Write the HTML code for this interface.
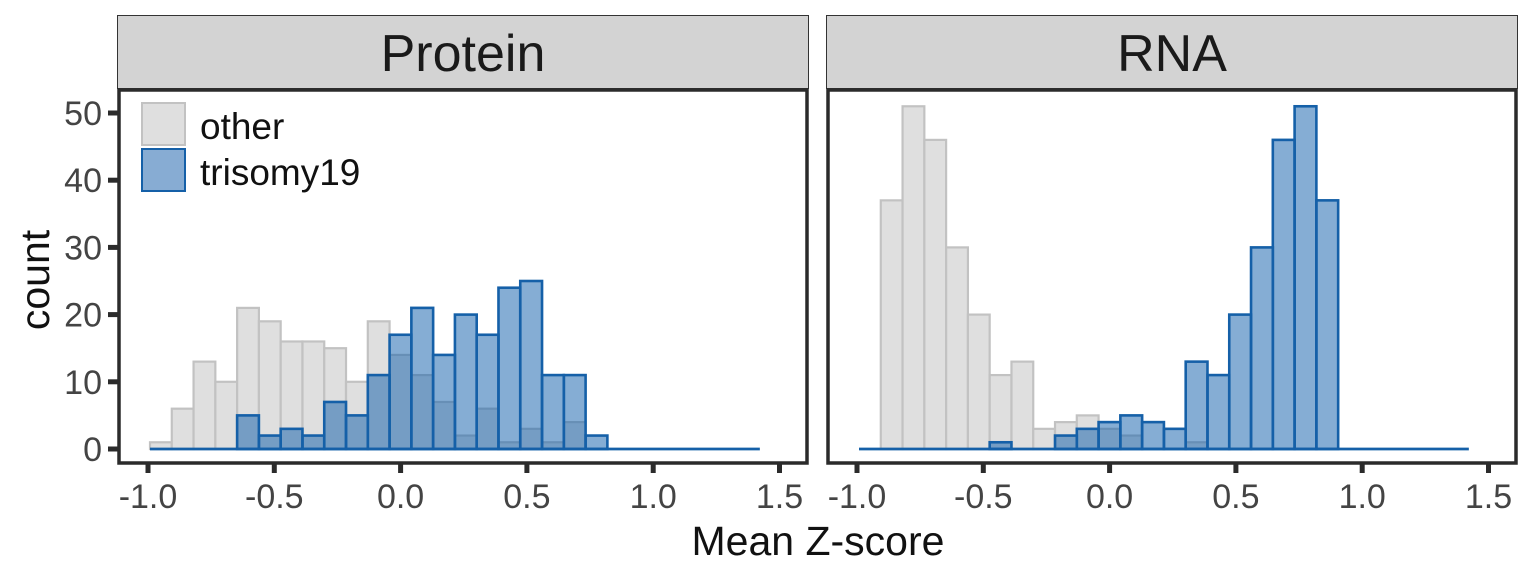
<!DOCTYPE html>
<html><head><meta charset="utf-8"><style>
html,body{margin:0;padding:0;background:#fff;width:1536px;height:576px;overflow:hidden}
svg text{font-family:"Liberation Sans",Arial,sans-serif}
</style></head><body>
<svg id="s" width="1536" height="576" xmlns="http://www.w3.org/2000/svg">
<rect x="0" y="0" width="1536" height="576" fill="#fff"/>
<rect x="117.5" y="15.5" width="691" height="73" fill="#d3d3d3" stroke="#333" stroke-width="1"/>
<rect x="826.5" y="15.5" width="691" height="73" fill="#d3d3d3" stroke="#333" stroke-width="1"/>
<text x="463" y="71" font-size="52" text-anchor="middle" fill="#1a1a1a">Protein</text>
<text x="1172" y="71" font-size="52" text-anchor="middle" fill="#1a1a1a">RNA</text>
<g id="bars"></g>
<rect x="119" y="90" width="688" height="373" fill="none" stroke="#2b2b2b" stroke-width="3.5"/>
<rect x="828" y="90" width="688" height="373" fill="none" stroke="#2b2b2b" stroke-width="3.5"/>
<g id="axes"></g>
<rect x="142" y="103" width="43" height="42" fill="#dfdfdf" stroke="#c2c2c2" stroke-width="2"/>
<rect x="142" y="149" width="43" height="42" fill="#87acd3" stroke="#1560a8" stroke-width="2"/>
<text x="200" y="139" font-size="37" fill="#111">other</text>
<text x="200" y="185" font-size="37" fill="#111">trisomy19</text>
<text x="818" y="555" font-size="41" text-anchor="middle" fill="#111">Mean Z-score</text>
<text transform="translate(49,280) rotate(-90)" font-size="41" text-anchor="middle" fill="#111">count</text>
</svg>
<script>
var NS="http://www.w3.org/2000/svg";
function el(t,a,p){var e=document.createElementNS(NS,t);for(var k in a)e.setAttribute(k,a[k]);if(p)p.appendChild(e);return e;}
var bars=document.getElementById('bars'),axes=document.getElementById('axes');
var y0=449,py=6.72,bw=21.78;
var L={off:0,o:[1,6,13,10,21,19,16,16,15,10,19,14,11,7,2,6,1,3,1,4,0,0,0,0,0,0,0,0],
 b:[0,0,0,0,5,2,3,2,7,5,11,17,21,14,20,17,24,25,11,11,2,0,0,0,0,0,0,0]};
var R={off:709,o:[0,37,51,46,30,20,11,13,3,4,5,3,2,0,0,1,0,0,0,0,0,0,0,0,0,0,0,0],
 b:[0,0,0,0,0,0,1,0,0,2,3,4,5,4,3,13,11,20,30,46,51,37,0,0,0,0,0,0]};
[L,R].forEach(function(P){
 var x0=150+P.off;
 for(var i=0;i<28;i++){var h=P.o[i]*py;
  el('rect',{x:x0+i*bw,y:y0-h,width:bw,height:h,fill:'#dfdfdf',stroke:'#c2c2c2','stroke-width':2.2},bars);}
 for(var i=0;i<28;i++){var h=P.b[i]*py;
  el('rect',{x:x0+i*bw,y:y0-h,width:bw,height:h,fill:'rgba(12,92,170,0.5)',stroke:'#1560a8','stroke-width':2.6},bars);}
 el('line',{x1:x0,y1:y0,x2:x0+28*bw,y2:y0,stroke:'#1560a8','stroke-width':2.8},bars);
 var labs=['-1.0','-0.5','0.0','0.5','1.0','1.5'];
 for(var j=0;j<6;j++){var x=148+P.off+j*126.3;
  el('line',{x1:x,y1:464,x2:x,y2:473,stroke:'#2b2b2b','stroke-width':5},axes);
  var t=el('text',{x:x,y:508,'font-size':34,'text-anchor':'middle',fill:'#444'},axes);t.textContent=labs[j];}
});
for(var k=0;k<=5;k++){var y=y0-k*10*py;
 el('line',{x1:108,y1:y,x2:118,y2:y,stroke:'#2b2b2b','stroke-width':5},axes);
 var t=el('text',{x:102,y:y+12,'font-size':34,'text-anchor':'end',fill:'#444'},axes);t.textContent=String(k*10);}
</script>
</body></html>
